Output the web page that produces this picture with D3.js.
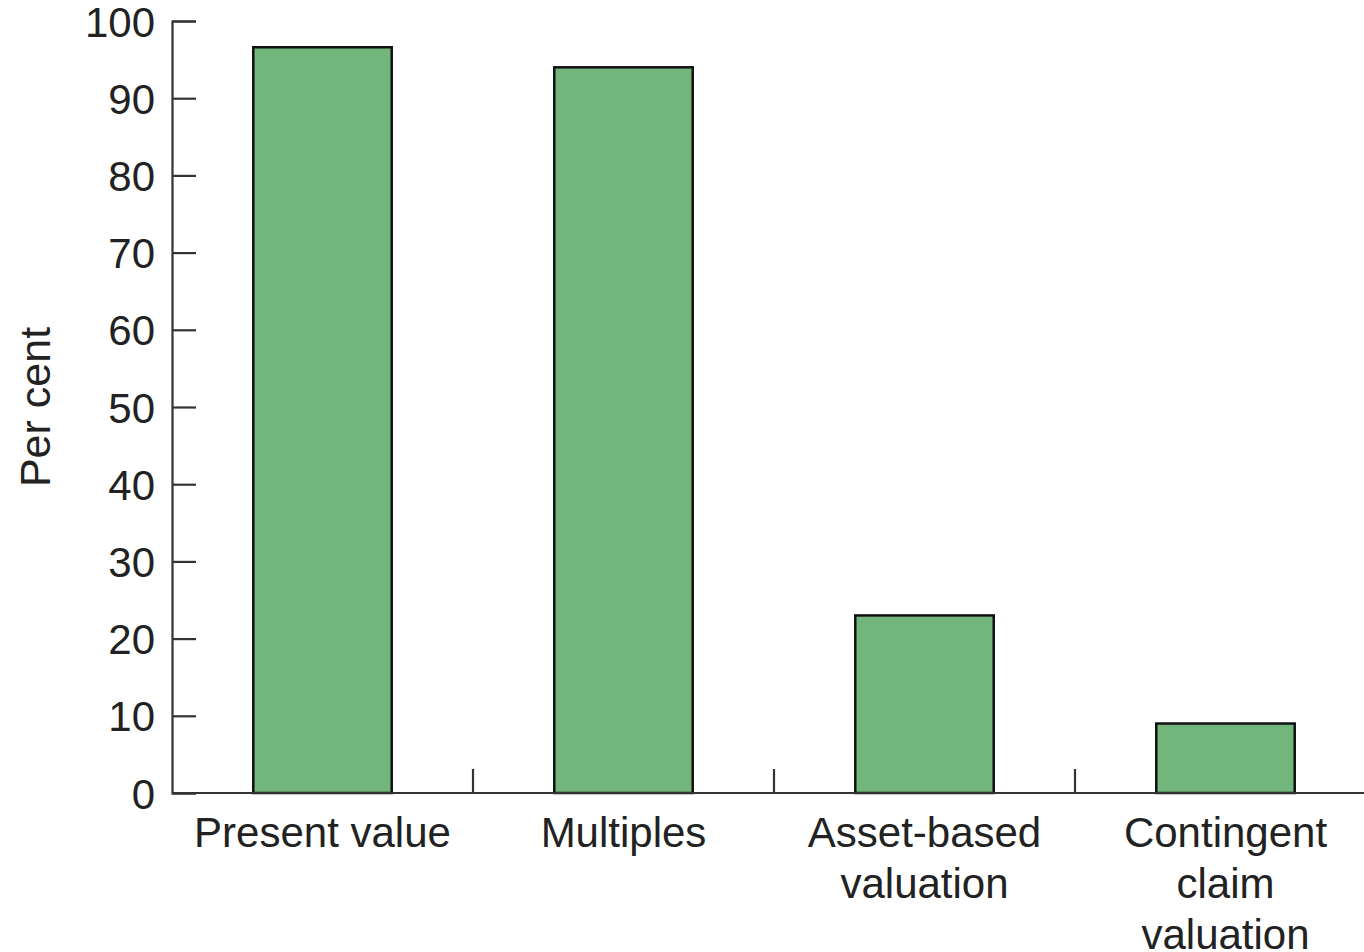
<!DOCTYPE html>
<html>
<head>
<meta charset="utf-8">
<script src="https://cdn.jsdelivr.net/npm/d3@7"></script>
<style>
  body { margin: 0; background: #fff; }
  svg text { font-family: "Liberation Sans", Arial, sans-serif; fill: #222; }
</style>
</head>
<body>
<div id="chart"></div>
<script>
// Data
const categories = ["Present value", "Multiples", "Asset-based valuation", "Contingent claim valuation"];
const labelLines = [["Present value"], ["Multiples"], ["Asset-based", "valuation"], ["Contingent", "claim", "valuation"]];
const values = [96.6, 94, 23, 9];
const yTicks = [0, 10, 20, 30, 40, 50, 60, 70, 80, 90, 100];

const W = 1364, H = 952;
const plotLeft = 172, plotRight = 1376, plotTop = 21, plotBottom = 793;

const svg = d3.select("#chart")
    .append("svg")
    .attr("width", W)
    .attr("height", H);

const x = d3.scaleBand()
    .domain(categories)
    .range([plotLeft, plotRight])
    .padding(0);

const y = d3.scaleLinear()
    .domain([0, 100])
    .range([plotBottom, plotTop]);

const barW = x.bandwidth() * 0.46;

// Bars
svg.selectAll("rect.bar")
    .data(categories)
    .enter()
    .append("rect")
    .attr("class", "bar")
    .attr("x", d => x(d) + (x.bandwidth() - barW) / 2)
    .attr("y", (d, i) => y(values[i]))
    .attr("width", barW)
    .attr("height", (d, i) => plotBottom - y(values[i]))
    .attr("fill", "#72b67c")
    .attr("stroke", "#111")
    .attr("stroke-width", 2.5);

// Y axis (ticks pointing inward)
const yAxis = svg.append("g")
    .attr("transform", `translate(${plotLeft},0)`)
    .call(d3.axisRight(y).tickValues(yTicks).tickSize(24).tickFormat(d3.format("d")));
yAxis.select(".domain").attr("stroke", "#333").attr("stroke-width", 2.2);
yAxis.selectAll(".tick line").attr("stroke", "#333").attr("stroke-width", 2.2);
yAxis.selectAll(".tick text")
    .attr("x", -17)
    .attr("dy", "0.36em")
    .attr("text-anchor", "end")
    .style("font-size", "42px");

// X axis line
svg.append("line")
    .attr("x1", plotLeft)
    .attr("x2", W)
    .attr("y1", plotBottom)
    .attr("y2", plotBottom)
    .attr("stroke", "#333")
    .attr("stroke-width", 2.2);

// Category separator ticks pointing up
svg.selectAll("line.sep")
    .data(categories.slice(1))
    .enter()
    .append("line")
    .attr("class", "sep")
    .attr("x1", d => x(d))
    .attr("x2", d => x(d))
    .attr("y1", plotBottom)
    .attr("y2", plotBottom - 24)
    .attr("stroke", "#333")
    .attr("stroke-width", 2.2);

// Category labels
const labels = svg.selectAll("text.cat")
    .data(categories)
    .enter()
    .append("text")
    .attr("class", "cat")
    .attr("text-anchor", "middle")
    .style("font-size", "42px");

labels.each(function(d, i) {
    const t = d3.select(this);
    labelLines[i].forEach((line, k) => {
        t.append("tspan")
            .attr("x", x(d) + x.bandwidth() / 2)
            .attr("y", 847 + k * 51)
            .text(line);
    });
});

// Y axis title
svg.append("text")
    .attr("transform", "translate(50,407) rotate(-90)")
    .attr("text-anchor", "middle")
    .style("font-size", "43px")
    .text("Per cent");
</script>
</body>
</html>
